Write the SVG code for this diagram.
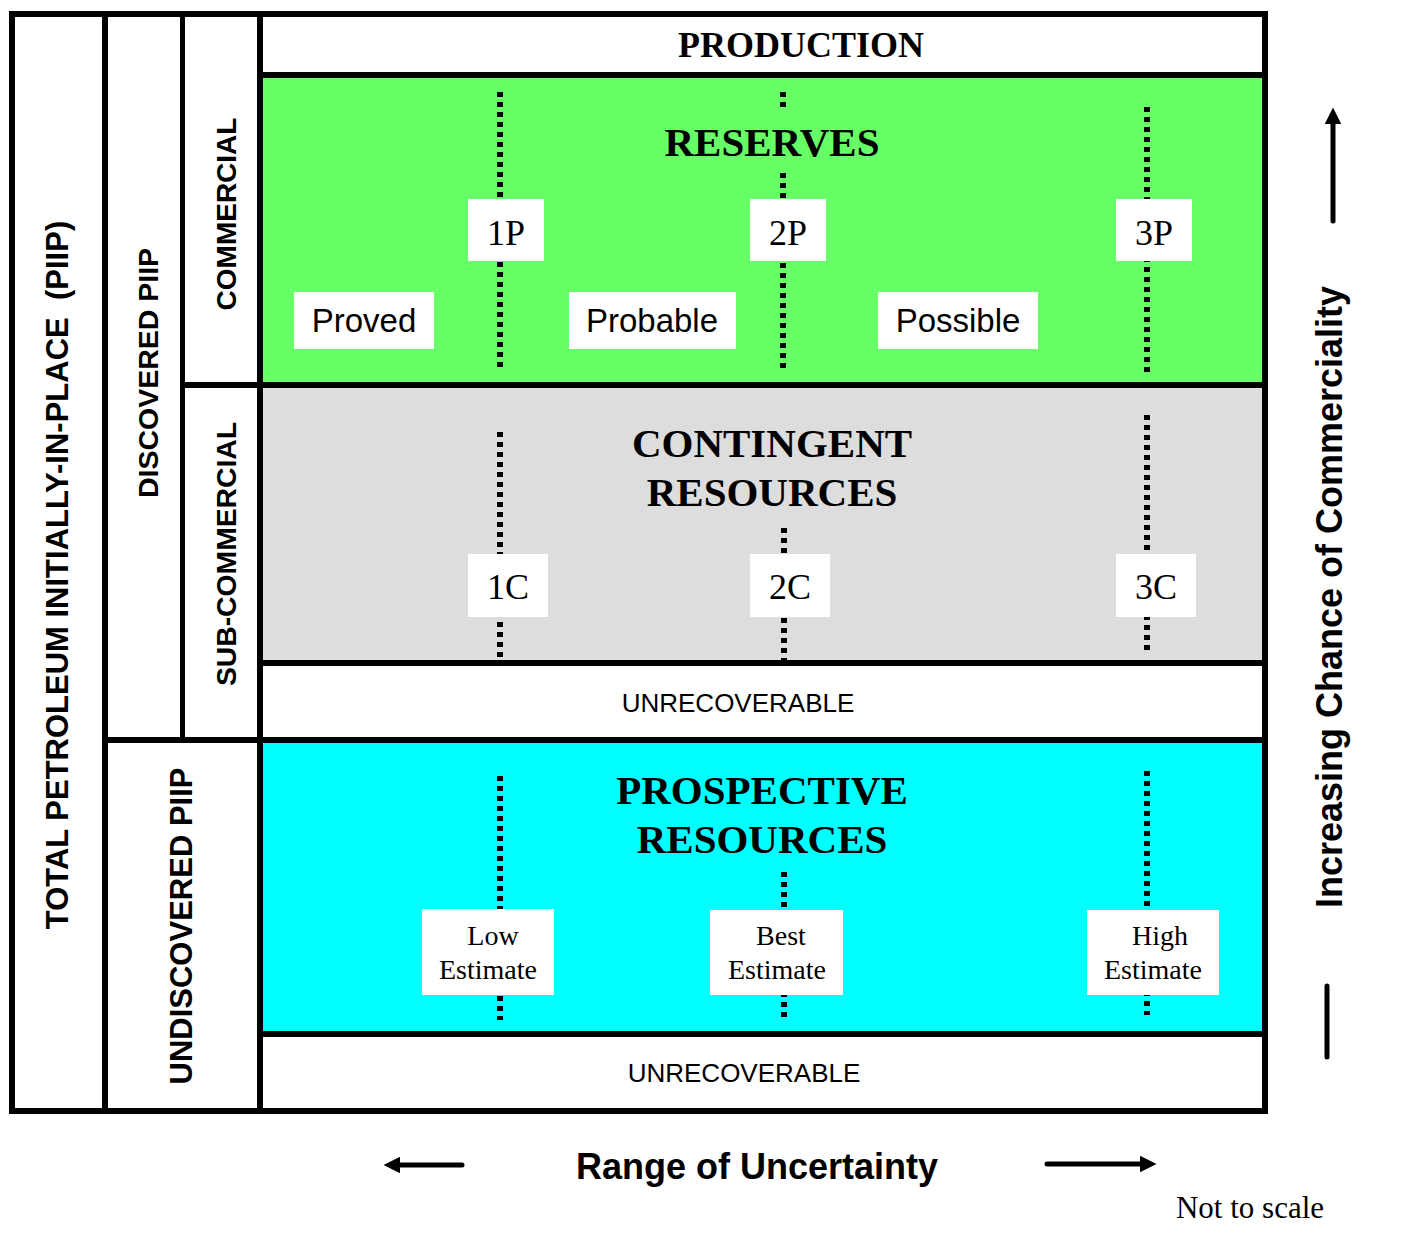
<svg xmlns="http://www.w3.org/2000/svg" width="1420" height="1241" viewBox="0 0 1420 1241">
<style>
.serifb{font-family:"Liberation Serif","Times New Roman",serif;font-weight:bold;fill:#000;text-anchor:middle}
.serif{font-family:"Liberation Serif","Times New Roman",serif;fill:#000;text-anchor:middle}
.sans{font-family:"Liberation Sans",Arial,sans-serif;fill:#000;text-anchor:middle}
.sansb{font-family:"Liberation Sans",Arial,sans-serif;font-weight:bold;fill:#000;text-anchor:middle}
.frame{stroke:#000;stroke-width:6;fill:none}
.dot{stroke:#000;stroke-width:6;stroke-dasharray:5 5;fill:none}
.box{fill:#fff}
</style>
<defs>
<marker id="ah" viewBox="0 0 10 10" refX="0" refY="5" markerWidth="3.3" markerHeight="3.3" orient="auto">
<path d="M0,0 L10,5 L0,10 z" fill="#000"/>
</marker>
</defs>
<rect x="0" y="0" width="1420" height="1241" fill="#fff"/>
<g id="bands">
<rect x="260" y="75" width="1005" height="310" fill="#66ff66"/>
<rect x="260" y="385" width="1005" height="278" fill="#dddddd"/>
<rect x="260" y="740" width="1005" height="294" fill="#00ffff"/>
</g>
<g id="connectors">
<path class="dot" d="M500,92 V372"/>
<path class="dot" d="M783,92 V107 M783,173 V372"/>
<path class="dot" d="M1147,107 V372"/>
<path class="dot" d="M500,432 V662"/>
<path class="dot" d="M784,528 V660"/>
<path class="dot" d="M1147,415 V650"/>
<path class="dot" d="M500,776 V1020"/>
<path class="dot" d="M784,872 V1020"/>
<path class="dot" d="M1147,771 V1015"/>
<line x1="1333" y1="221" x2="1333" y2="124" stroke="#000" stroke-width="5" stroke-linecap="round" marker-end="url(#ah)"/>
<line x1="1327" y1="986" x2="1327" y2="1057" stroke="#000" stroke-width="5" stroke-linecap="round"/>
<line x1="462" y1="1165" x2="400" y2="1165" stroke="#000" stroke-width="5" stroke-linecap="round" marker-end="url(#ah)"/>
<line x1="1047" y1="1164" x2="1140" y2="1164" stroke="#000" stroke-width="5" stroke-linecap="round" marker-end="url(#ah)"/>
</g>
<g id="frame">
<rect class="frame" x="12" y="14" width="1253" height="1097"/>
<line class="frame" x1="105" y1="14" x2="105" y2="1111"/>
<line class="frame" x1="182.5" y1="14" x2="182.5" y2="740" style="stroke-width:5"/>
<line class="frame" x1="260" y1="14" x2="260" y2="1111"/>
<line class="frame" x1="260" y1="75" x2="1265" y2="75"/>
<line class="frame" x1="182" y1="385" x2="1265" y2="385"/>
<line class="frame" x1="260" y1="663" x2="1265" y2="663"/>
<line class="frame" x1="105" y1="740" x2="1265" y2="740"/>
<line class="frame" x1="260" y1="1034" x2="1265" y2="1034"/>
</g>
<g id="production"><text class="serifb" x="801" y="57" font-size="36">PRODUCTION</text></g>
<g id="reserves"><text class="serifb" x="772" y="156" font-size="41">RESERVES</text></g>
<g id="contingent"><text class="serifb" x="772" y="457" font-size="41">CONTINGENT</text><text class="serifb" x="772" y="506" font-size="41">RESOURCES</text></g>
<g id="prospective"><text class="serifb" x="762" y="804" font-size="41">PROSPECTIVE</text><text class="serifb" x="762" y="853" font-size="41">RESOURCES</text></g>
<g id="unrec1"><text class="sans" x="738" y="712" font-size="26">UNRECOVERABLE</text></g>
<g id="unrec2"><text class="sans" x="744" y="1082" font-size="26">UNRECOVERABLE</text></g>
<g id="p1"><rect class="box" x="468" y="199" width="76" height="62"/><text class="serif" x="506" y="245" font-size="36">1P</text></g>
<g id="p2"><rect class="box" x="750" y="199" width="76" height="62"/><text class="serif" x="788" y="245" font-size="36">2P</text></g>
<g id="p3"><rect class="box" x="1116" y="199" width="76" height="62"/><text class="serif" x="1154" y="245" font-size="36">3P</text></g>
<g id="proved"><rect class="box" x="294" y="292" width="140" height="57"/><text class="sans" x="364" y="332" font-size="33">Proved</text></g>
<g id="probable"><rect class="box" x="569" y="292" width="167" height="57"/><text class="sans" x="652" y="332" font-size="33">Probable</text></g>
<g id="possible"><rect class="box" x="878" y="292" width="160" height="57"/><text class="sans" x="958" y="332" font-size="33">Possible</text></g>
<g id="c1"><rect class="box" x="468" y="554" width="80" height="63"/><text class="serif" x="508" y="599" font-size="36">1C</text></g>
<g id="c2"><rect class="box" x="750" y="554" width="80" height="63"/><text class="serif" x="790" y="599" font-size="36">2C</text></g>
<g id="c3"><rect class="box" x="1116" y="554" width="80" height="63"/><text class="serif" x="1156" y="599" font-size="36">3C</text></g>
<g id="low"><rect class="box" x="422" y="909" width="132" height="86"/><text class="serif" x="493" y="945" font-size="28">Low</text><text class="serif" x="488" y="979" font-size="28">Estimate</text></g>
<g id="best"><rect class="box" x="710" y="910" width="133" height="85"/><text class="serif" x="781" y="945" font-size="28">Best</text><text class="serif" x="777" y="979" font-size="28">Estimate</text></g>
<g id="high"><rect class="box" x="1087" y="910" width="132" height="85"/><text class="serif" x="1160" y="945" font-size="28">High</text><text class="serif" x="1153" y="979" font-size="28">Estimate</text></g>
<g id="total"><text class="sansb" font-size="31" xml:space="preserve" transform="translate(68,575) rotate(-90)">TOTAL PETROLEUM INITIALLY-IN-PLACE  (PIIP)</text></g>
<g id="discovered"><text class="sansb" font-size="28.5" transform="translate(158,373) rotate(-90)">DISCOVERED PIIP</text></g>
<g id="commercial"><text class="sansb" font-size="28" transform="translate(236,214) rotate(-90)">COMMERCIAL</text></g>
<g id="subcommercial"><text class="sansb" font-size="28.3" transform="translate(236,554) rotate(-90)">SUB-COMMERCIAL</text></g>
<g id="undiscovered"><text class="sansb" font-size="31" transform="translate(192,926) rotate(-90)">UNDISCOVERED PIIP</text></g>
<g id="increasing"><text class="sansb" font-size="36" transform="translate(1342,597) rotate(-90)">Increasing Chance of Commerciality</text></g>
<g id="range"><text class="sansb" x="757" y="1179" font-size="36">Range of Uncertainty</text></g>
<g id="notscale"><text class="serif" x="1250" y="1218" font-size="31">Not to scale</text></g>
</svg>
